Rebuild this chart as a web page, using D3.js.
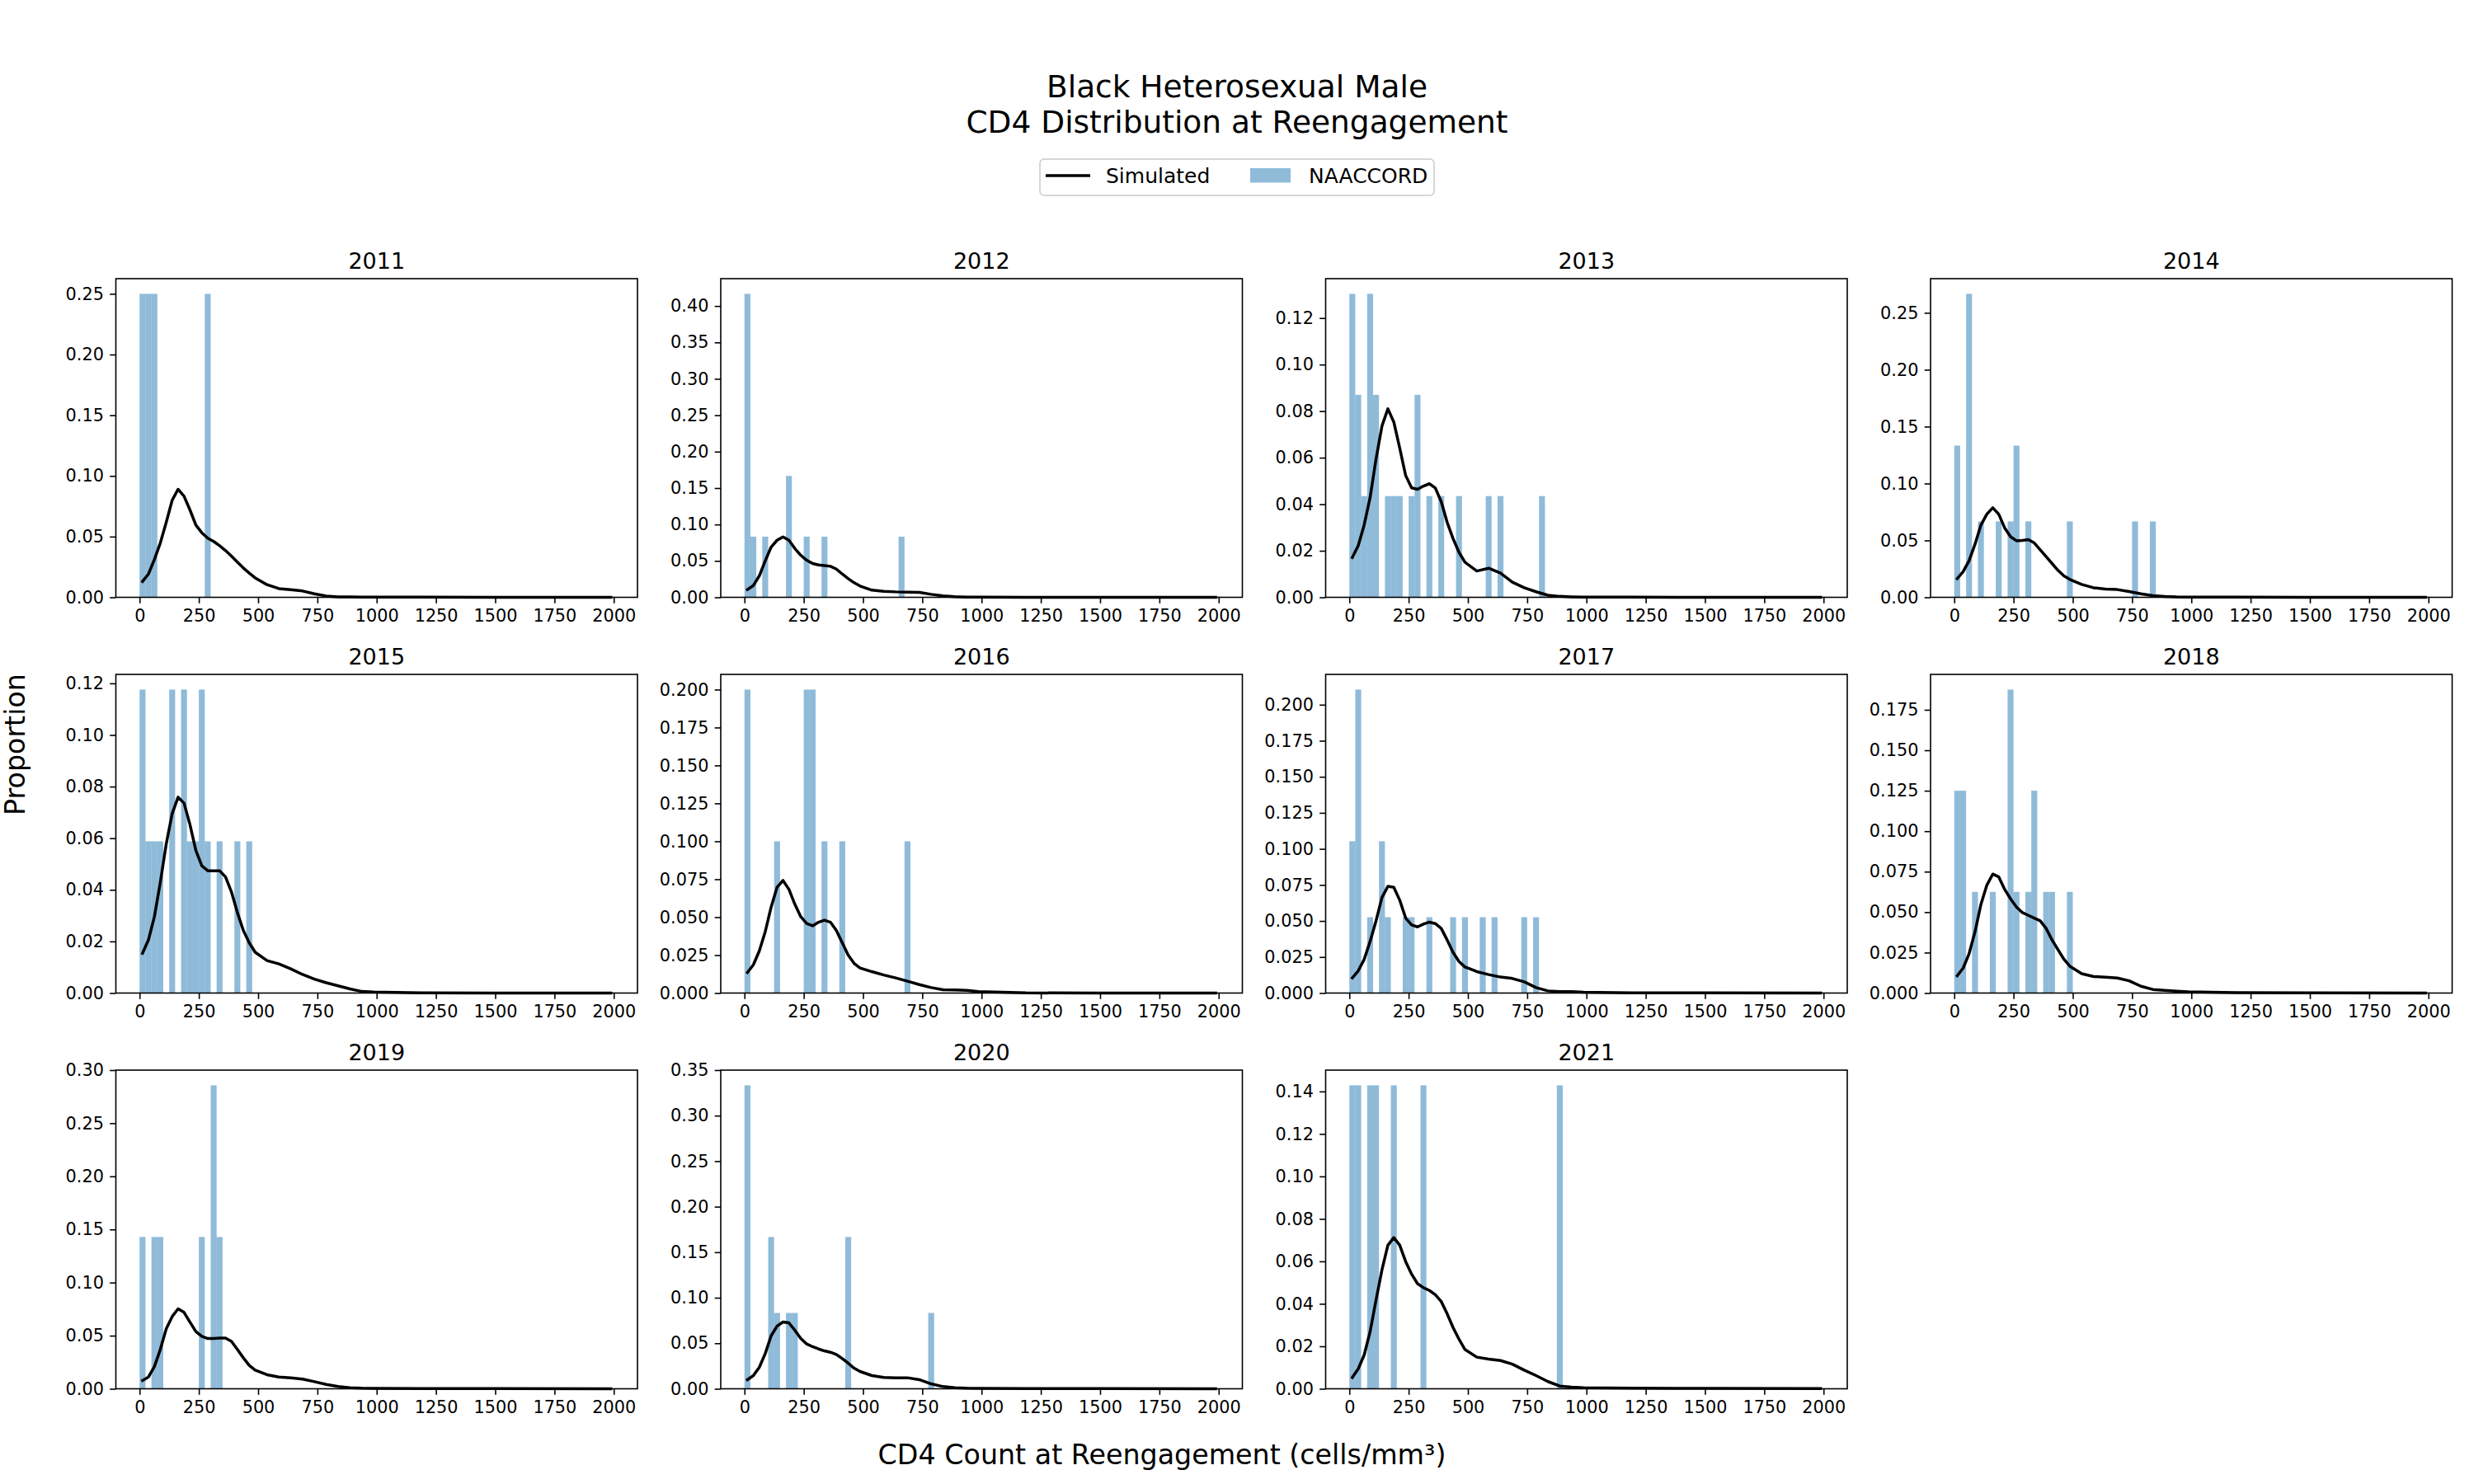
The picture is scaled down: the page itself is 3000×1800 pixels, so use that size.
<!DOCTYPE html>
<html lang="en">
<head>
<meta charset="UTF-8">
<title>CD4 Distribution at Reengagement</title>
<script src="https://d3js.org/d3.v7.min.js"></script>
<style>
  body { margin: 0; background: #fff; }
  svg text { font-family: "DejaVu Sans", sans-serif; fill: #000; }
</style>
</head>
<body>
<div id="chart"></div>
<script>
// ---- data ----
const years = [2011, 2012, 2013, 2014, 2015, 2016, 2017, 2018, 2019, 2020, 2021];
const binWidth = 25;
const xTicks = [0, 250, 500, 750, 1000, 1250, 1500, 1750, 2000];

// NAACCORD histogram: left edge of each non-empty bin and its proportion
const naBins = [
  [0, 25, 50, 275],
  [0, 25, 75, 175, 250, 325, 650],
  [0, 25, 50, 75, 100, 150, 175, 200, 250, 275, 325, 375, 450, 575, 625, 800],
  [0, 50, 100, 175, 225, 250, 300, 475, 750, 825],
  [0, 25, 50, 75, 125, 175, 200, 225, 250, 275, 325, 400, 450],
  [0, 125, 250, 275, 325, 400, 675],
  [0, 25, 75, 125, 150, 225, 250, 325, 425, 475, 550, 600, 725, 775],
  [0, 25, 75, 150, 225, 250, 300, 325, 375, 400, 475],
  [0, 50, 75, 250, 300, 325],
  [0, 100, 125, 175, 200, 425, 775],
  [0, 25, 75, 100, 175, 300, 875]
];
const naProp = [
  [0.25, 0.25, 0.25, 0.25],
  [0.4167, 0.0833, 0.0833, 0.1667, 0.0833, 0.0833, 0.0833],
  [0.1304, 0.0870, 0.0435, 0.1304, 0.0870, 0.0435, 0.0435, 0.0435, 0.0435, 0.0870, 0.0435, 0.0435, 0.0435, 0.0435, 0.0435, 0.0435],
  [0.1333, 0.2667, 0.0667, 0.0667, 0.0667, 0.1333, 0.0667, 0.0667, 0.0667, 0.0667],
  [0.1176, 0.0588, 0.0588, 0.0588, 0.1176, 0.1176, 0.0588, 0.0588, 0.1176, 0.0588, 0.0588, 0.0588, 0.0588],
  [0.2, 0.1, 0.2, 0.2, 0.1, 0.1, 0.1],
  [0.1053, 0.2105, 0.0526, 0.1053, 0.0526, 0.0526, 0.0526, 0.0526, 0.0526, 0.0526, 0.0526, 0.0526, 0.0526, 0.0526],
  [0.125, 0.125, 0.0625, 0.0625, 0.1875, 0.0625, 0.0625, 0.125, 0.0625, 0.0625, 0.0625],
  [0.1429, 0.1429, 0.1429, 0.1429, 0.2857, 0.1429],
  [0.3333, 0.1667, 0.0833, 0.0833, 0.0833, 0.1667, 0.0833],
  [0.1429, 0.1429, 0.1429, 0.1429, 0.1429, 0.1429, 0.1429]
];

// simulated curve, sampled at these CD4 values
const simX = [12.5, 37.5, 62.5, 87.5, 112.5, 137.5, 162.5, 187.5, 212.5, 237.5, 262.5, 287.5, 312.5, 337.5, 362.5, 387.5,
  412.5, 437.5, 462.5, 487.5, 537.5, 587.5, 637.5, 687.5, 737.5, 787.5, 837.5, 887.5, 937.5, 987.5, 1187.5, 1487.5, 1987.5];
const simY = [
  [0.0131,0.0192,0.0312,0.0448,0.0618,0.0800,0.0890,0.0833,0.0720,0.0595,0.0532,0.0487,0.0460,0.0425,0.0385,0.0340,0.0290,0.0242,0.0200,0.0160,0.0104,0.0072,0.0063,0.0052,0.0029,0.0011,0.0004,0.0003,0.0002,0.0002,0.0001,0.0000,0.0000],
  [0.0106,0.0162,0.0294,0.0500,0.0690,0.0784,0.0830,0.0784,0.0670,0.0577,0.0509,0.0464,0.0445,0.0437,0.0426,0.0388,0.0320,0.0256,0.0200,0.0155,0.0098,0.0083,0.0075,0.0072,0.0068,0.0041,0.0019,0.0008,0.0003,0.0002,0.0001,0.0000,0.0000],
  [0.0171,0.0222,0.0311,0.0429,0.0594,0.0736,0.0810,0.0753,0.0641,0.0523,0.0470,0.0464,0.0478,0.0488,0.0470,0.0411,0.0322,0.0252,0.0193,0.0151,0.0113,0.0125,0.0104,0.0065,0.0041,0.0024,0.0009,0.0004,0.0002,0.0001,0.0001,0.0000,0.0000],
  [0.0164,0.0225,0.0321,0.0466,0.0635,0.0731,0.0787,0.0731,0.0611,0.0533,0.0497,0.0500,0.0507,0.0478,0.0418,0.0357,0.0297,0.0237,0.0188,0.0157,0.0113,0.0084,0.0072,0.0068,0.0051,0.0031,0.0014,0.0007,0.0003,0.0002,0.0001,0.0000,0.0000],
  [0.0154,0.0206,0.0296,0.0429,0.0578,0.0695,0.0759,0.0736,0.0653,0.0552,0.0493,0.0474,0.0474,0.0474,0.0450,0.0392,0.0312,0.0243,0.0195,0.0158,0.0126,0.0113,0.0094,0.0072,0.0054,0.0040,0.0028,0.0016,0.0006,0.0004,0.0001,0.0000,0.0000],
  [0.0136,0.0186,0.0277,0.0404,0.0567,0.0697,0.0742,0.0684,0.0585,0.0503,0.0458,0.0443,0.0467,0.0480,0.0467,0.0413,0.0331,0.0250,0.0195,0.0165,0.0141,0.0119,0.0100,0.0078,0.0056,0.0036,0.0022,0.0020,0.0018,0.0009,0.0001,0.0000,0.0000],
  [0.0105,0.0154,0.0234,0.0358,0.0501,0.0663,0.0740,0.0734,0.0644,0.0520,0.0473,0.0459,0.0478,0.0492,0.0482,0.0448,0.0368,0.0282,0.0219,0.0181,0.0149,0.0128,0.0111,0.0101,0.0078,0.0038,0.0015,0.0010,0.0010,0.0006,0.0002,0.0001,0.0000],
  [0.0107,0.0154,0.0243,0.0378,0.0548,0.0667,0.0735,0.0718,0.0641,0.0582,0.0531,0.0497,0.0480,0.0463,0.0446,0.0399,0.0328,0.0268,0.0209,0.0166,0.0120,0.0102,0.0098,0.0093,0.0076,0.0042,0.0022,0.0017,0.0012,0.0008,0.0003,0.0001,0.0000],
  [0.0078,0.0111,0.0209,0.0370,0.0564,0.0680,0.0753,0.0719,0.0628,0.0538,0.0494,0.0473,0.0473,0.0478,0.0478,0.0447,0.0370,0.0292,0.0220,0.0176,0.0132,0.0111,0.0103,0.0091,0.0067,0.0041,0.0021,0.0010,0.0005,0.0003,0.0001,0.0001,0.0000],
  [0.0100,0.0145,0.0235,0.0386,0.0582,0.0688,0.0733,0.0724,0.0643,0.0552,0.0492,0.0462,0.0437,0.0416,0.0401,0.0377,0.0332,0.0281,0.0226,0.0190,0.0145,0.0124,0.0121,0.0121,0.0100,0.0054,0.0024,0.0012,0.0006,0.0004,0.0002,0.0002,0.0001],
  [0.0053,0.0094,0.0159,0.0269,0.0418,0.0560,0.0676,0.0712,0.0676,0.0599,0.0540,0.0495,0.0476,0.0463,0.0443,0.0411,0.0353,0.0288,0.0233,0.0185,0.0149,0.0140,0.0133,0.0116,0.0088,0.0062,0.0034,0.0013,0.0008,0.0005,0.0003,0.0002,0.0001]
];

const yTicks = [
  [0, 0.05, 0.10, 0.15, 0.20, 0.25],
  [0, 0.05, 0.10, 0.15, 0.20, 0.25, 0.30, 0.35, 0.40],
  [0, 0.02, 0.04, 0.06, 0.08, 0.10, 0.12],
  [0, 0.05, 0.10, 0.15, 0.20, 0.25],
  [0, 0.02, 0.04, 0.06, 0.08, 0.10, 0.12],
  [0, 0.025, 0.05, 0.075, 0.10, 0.125, 0.15, 0.175, 0.20],
  [0, 0.025, 0.05, 0.075, 0.10, 0.125, 0.15, 0.175, 0.20],
  [0, 0.025, 0.05, 0.075, 0.10, 0.125, 0.15, 0.175],
  [0, 0.05, 0.10, 0.15, 0.20, 0.25, 0.30],
  [0, 0.05, 0.10, 0.15, 0.20, 0.25, 0.30, 0.35],
  [0, 0.02, 0.04, 0.06, 0.08, 0.10, 0.12, 0.14]
];
const yDecimals = [2, 2, 2, 2, 2, 3, 3, 3, 2, 2, 2];

// ---- layout ----
const W = 3000, H = 1800;
const colLeft = [140.5, 874, 1607.5, 2341];
const rowTop = [338, 818, 1298];
const pw = 632.5, ph = 386.5;
const tickLen = 7.3, tickPad = 7.3;
const barColor = "#1f77b4";

const svg = d3.select("#chart").append("svg")
  .attr("width", W)
  .attr("height", H);

svg.append("rect").attr("width", W).attr("height", H).attr("fill", "#fff");

// titles
svg.append("text")
  .attr("x", 1500).attr("y", 118)
  .attr("text-anchor", "middle")
  .style("font-size", "37.5px")
  .text("Black Heterosexual Male");
svg.append("text")
  .attr("x", 1500).attr("y", 161)
  .attr("text-anchor", "middle")
  .style("font-size", "37.5px")
  .text("CD4 Distribution at Reengagement");

// legend
const lg = svg.append("g");
lg.append("rect")
  .attr("x", 1261).attr("y", 193).attr("width", 478).attr("height", 44)
  .attr("rx", 5).attr("fill", "#fff")
  .attr("stroke", "#cccccc").attr("stroke-width", 1.6);
lg.append("line")
  .attr("x1", 1268).attr("x2", 1322).attr("y1", 213).attr("y2", 213)
  .attr("stroke", "#000").attr("stroke-width", 3.5);
lg.append("text").attr("x", 1341).attr("y", 221.5)
  .style("font-size", "25px").text("Simulated");
lg.append("rect")
  .attr("x", 1516).attr("y", 204).attr("width", 49).attr("height", 17.5)
  .attr("fill", barColor).attr("fill-opacity", 0.5);
lg.append("text").attr("x", 1587).attr("y", 221.5)
  .style("font-size", "25px").text("NAACCORD");

// shared axis labels
svg.append("text")
  .attr("x", 1409).attr("y", 1776)
  .attr("text-anchor", "middle")
  .style("font-size", "33.3px")
  .text("CD4 Count at Reengagement (cells/mm³)");
svg.append("text")
  .attr("transform", "translate(30,903) rotate(-90)")
  .attr("text-anchor", "middle")
  .style("font-size", "33.3px")
  .text("Proportion");

const xScale = d3.scaleLinear().domain([-100, 2100]).range([0, pw]);

years.forEach(function(year, i) {
  const left = colLeft[i % 4];
  const top = rowTop[Math.floor(i / 4)];
  const g = svg.append("g").attr("transform", "translate(" + left + "," + top + ")");

  const yMax = d3.max(naProp[i]) * 1.05;
  const yScale = d3.scaleLinear().domain([0, yMax]).range([ph, 0]);

  // histogram bars
  g.selectAll("rect.bar")
    .data(naBins[i].map((b, k) => ({ x0: b, p: naProp[i][k] })))
    .enter()
    .append("rect")
    .attr("class", "bar")
    .attr("x", d => xScale(d.x0))
    .attr("width", d => xScale(d.x0 + binWidth) - xScale(d.x0))
    .attr("y", d => yScale(d.p))
    .attr("height", d => yScale(0) - yScale(d.p))
    .attr("fill", barColor)
    .attr("fill-opacity", 0.5);

  // simulated curve
  const line = d3.line()
    .x((d, k) => xScale(simX[k]))
    .y(d => yScale(d));
  g.append("path")
    .datum(simY[i])
    .attr("d", line)
    .attr("fill", "none")
    .attr("stroke", "#000")
    .attr("stroke-width", 3.5)
    .attr("stroke-linejoin", "round")
    .attr("stroke-linecap", "square");

  // axes
  const xAxis = d3.axisBottom(xScale)
    .tickValues(xTicks)
    .tickFormat(d3.format("d"))
    .tickSizeInner(tickLen).tickSizeOuter(0).tickPadding(tickPad);
  const yAxis = d3.axisLeft(yScale)
    .tickValues(yTicks[i])
    .tickFormat(d3.format("." + yDecimals[i] + "f"))
    .tickSizeInner(tickLen).tickSizeOuter(0).tickPadding(tickPad);

  const gx = g.append("g").attr("transform", "translate(0," + ph + ")").call(xAxis);
  const gy = g.append("g").call(yAxis);
  [gx, gy].forEach(function(a) {
    a.select(".domain").remove();
    a.selectAll("line").attr("stroke", "#000").attr("stroke-width", 1.6);
    a.selectAll("text")
      .style("font-family", "'DejaVu Sans', sans-serif")
      .style("font-size", "20.8px")
      .attr("fill", "#000");
  });

  // frame
  g.append("rect")
    .attr("width", pw).attr("height", ph)
    .attr("fill", "none")
    .attr("stroke", "#000")
    .attr("stroke-width", 1.6);

  // subplot title
  g.append("text")
    .attr("x", pw / 2).attr("y", -12.5)
    .attr("text-anchor", "middle")
    .style("font-size", "27px")
    .text(year);
});
</script>
</body>
</html>
